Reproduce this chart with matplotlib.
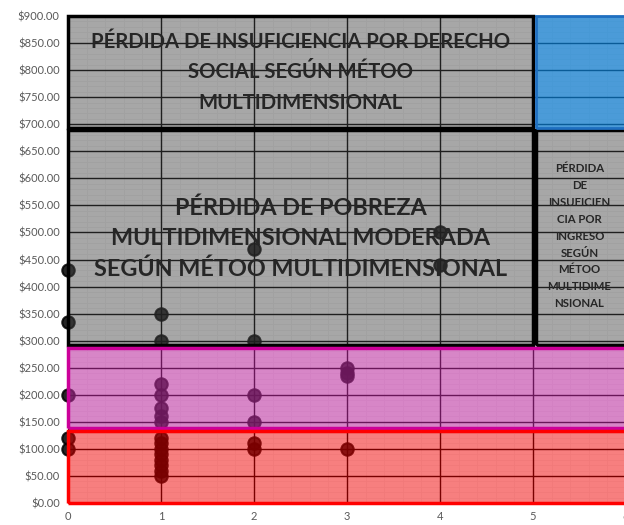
import matplotlib.pyplot as plt
from matplotlib.patches import Rectangle
from matplotlib.ticker import MultipleLocator, FuncFormatter, NullFormatter

plt.rcParams['font.family'] = ['Lato', 'DejaVu Sans']

# puntos (x = número de carencias, y = ingreso)
x_vals = [0, 0, 0, 0, 0,
          1, 1, 1, 1, 1, 1, 1, 1, 1, 1, 1, 1, 1, 1, 1,
          2, 2, 2, 2, 2, 2,
          3, 3, 3, 3,
          4, 4]
y_vals = [430, 335, 200, 120, 100,
          350, 300, 220, 200, 175, 160, 150, 120, 110, 100, 90, 80, 70, 60, 50,
          470, 300, 200, 150, 110, 100,
          250, 240, 235, 100,
          500, 440]

# zonas: (x0, x1, y0, y1)
zona_derecho = (0, 5, 693, 900)
zona_azul = (5.03, 6.1, 693, 900)
zona_moderada = (0, 5, 292, 690)
zona_ingreso = (5.03, 6.1, 292, 690)
zona_magenta = (0, 6.1, 138, 286)
zona_roja = (0, 6.1, 0, 133)

txt_derecho = "PÉRDIDA DE INSUFICIENCIA POR DERECHO\nSOCIAL SEGÚN MÉTOO\nMULTIDIMENSIONAL"
txt_moderada = "PÉRDIDA DE POBREZA\nMULTIDIMENSIONAL MODERADA\nSEGÚN MÉTOO MULTIDIMENSIONAL"
txt_ingreso = "PÉRDIDA\nDE\nINSUFICIEN\nCIA POR\nINGRESO\nSEGÚN\nMÉTOO\nMULTIDIME\nNSIONAL"

fig = plt.figure(figsize=(6.24, 5.25), dpi=100)
pos = [68 / 624, 22 / 525, 558 / 624, 487 / 525]

# rejilla fina detrás
bg = fig.add_axes(pos, zorder=0)
bg.set_xlim(0, 6)
bg.set_ylim(0, 900)
bg.xaxis.set_major_locator(MultipleLocator(0.2))
bg.yaxis.set_major_locator(MultipleLocator(10))
bg.xaxis.set_major_formatter(NullFormatter())
bg.yaxis.set_major_formatter(NullFormatter())
bg.tick_params(length=0)
bg.grid(color='#f4f4f4', linewidth=0.6)
for s in bg.spines.values():
    s.set_visible(False)

ax = fig.add_axes(pos, zorder=1)
ax.patch.set_alpha(0)
ax.set_xlim(0, 6)
ax.set_ylim(0, 900)
ax.yaxis.set_major_locator(MultipleLocator(50))
ax.xaxis.set_major_locator(MultipleLocator(1))
ax.yaxis.set_major_formatter(FuncFormatter(lambda v, p: f"${v:,.2f}"))
ax.grid(which='major', color='black', linewidth=1.0)
ax.set_axisbelow(True)
ax.tick_params(which='both', length=0, labelsize=8, colors='#595959', pad=6)
for s in ax.spines.values():
    s.set_visible(False)

ax.scatter(x_vals, y_vals, s=80, color='black', alpha=0.85,
           edgecolors='black', linewidths=1.5, zorder=2, clip_on=False)


def zona(r, fill, alpha, edge, lw):
    x0, x1, y0, y1 = r
    ax.add_patch(Rectangle((x0, y0), x1 - x0, y1 - y0, facecolor=fill, alpha=alpha,
                           edgecolor='none', zorder=3, clip_on=False))
    ax.add_patch(Rectangle((x0, y0), x1 - x0, y1 - y0, facecolor='none',
                           edgecolor=edge, linewidth=lw, zorder=4, clip_on=False))


zona(zona_derecho, '#444444', 0.47, 'black', 2.5)
zona(zona_moderada, '#444444', 0.47, 'black', 2.5)
zona(zona_ingreso, '#444444', 0.47, 'black', 2.5)
zona(zona_azul, '#0e7acb', 0.75, '#1f6fc0', 2.0)
zona(zona_magenta, '#ba2a9e', 0.57, '#cc0099', 2.5)
zona(zona_roja, '#f00000', 0.5, '#ff0000', 2.5)

ax.text(2.5, 796, txt_derecho, ha='center', va='center', fontsize=14.6,
        fontweight='bold', color='#262626', linespacing=1.65, zorder=5)
ax.text(2.5, 488, txt_moderada, ha='center', va='center', fontsize=16.8,
        fontweight='bold', color='#262626', linespacing=1.53, zorder=5)
ax.text(5.5, 493, txt_ingreso, ha='center', va='center', fontsize=8.2,
        fontweight='bold', color='#262626', linespacing=1.65, zorder=5)

fig.savefig('out.png', dpi=100)
